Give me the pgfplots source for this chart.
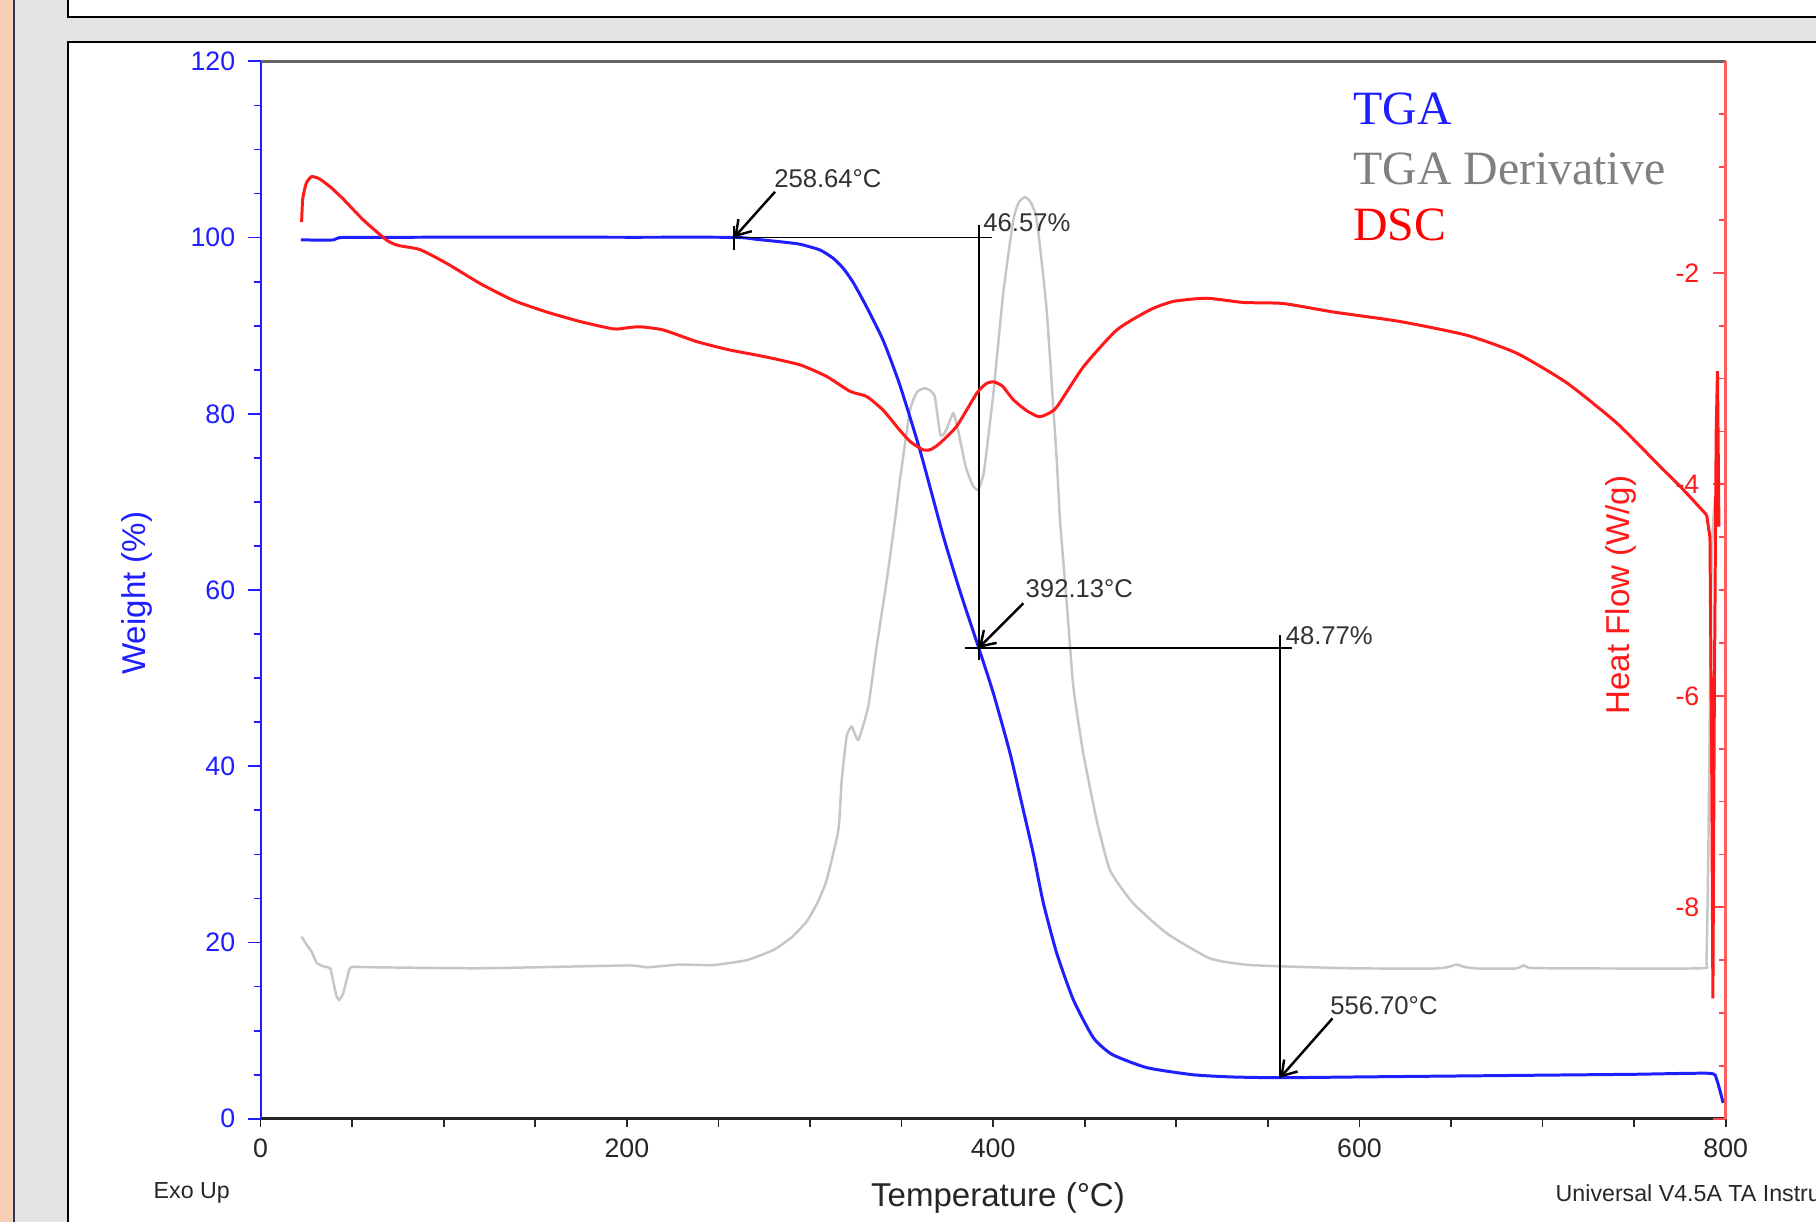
\documentclass[border=0pt]{standalone}
\usepackage{fontspec}
\setmainfont{Liberation Sans}
\newfontfamily\timesfont{Liberation Serif}
\usepackage{pgfplots}
\pgfplotsset{compat=1.18}
\usetikzlibrary{arrows.meta}

\definecolor{tgablue}{RGB}{30,30,255}
\definecolor{dscred}{RGB}{255,25,25}
\definecolor{derivgray}{RGB}{198,198,198}
\definecolor{labgray}{RGB}{50,50,50}
\definecolor{peach}{RGB}{247,207,180}
\definecolor{panelgray}{RGB}{228,228,228}
\definecolor{navyline}{RGB}{40,55,80}

\newcommand\tickfont{\fontsize{7.6}{9}\selectfont}
\newcommand\labfont{\fontsize{9.4}{11}\selectfont}
\newcommand\annfont{\fontsize{7.3}{9}\selectfont}
\newcommand\legfont{\timesfont\fontsize{13.6}{16}\selectfont}
\newcommand\footfont{\fontsize{6.6}{8}\selectfont}

\pgfplotsset{
  /pgf/number format/assume math mode=true,
  base/.style={scale only axis, width=14.651cm, height=10.574cm,
    at={(2.606cm,1.032cm)}, anchor=south west,
    xmin=0, xmax=800, clip=false},
}

\begin{document}
\begin{tikzpicture}
\useasboundingbox (0,0) rectangle (18.16,12.22);
\clip (0,0) rectangle (18.16,12.22);
% slide background
\fill[panelgray] (0,0) rectangle (18.16,12.22);
\fill[peach] (0,0) rectangle (0.125,12.22);
\fill[navyline] (0.125,0) rectangle (0.15,12.22);
\filldraw[fill=white, draw=black, line width=0.6pt] (0.68,12.053) rectangle (18.6,12.6);
\filldraw[fill=white, draw=black, line width=0.6pt] (0.68,-0.5) rectangle (18.6,11.80);

% x axis (bottom)
\begin{axis}[base, ymin=0, ymax=120,
  axis x line*=bottom, axis y line=none,
  xtick={0,200,...,800}, minor x tick num=3,
  tick align=outside, major tick length=0.08cm, minor tick length=0.08cm,
  x axis line style={black!85, line width=0.8pt},
  xtick style={black!85, line width=0.5pt},
  xticklabel style={font=\tickfont, text=black!85},
  xlabel={Temperature (°C)},
  every axis x label/.style={at={(axis description cs:0.5033,-0.0744)}, anchor=center, font=\labfont, text=black!85},
]
\end{axis}

% left axis: TGA and derivative
\begin{axis}[base, ymin=0, ymax=120,
  axis y line*=left, axis x line=none,
  ytick={0,20,...,120}, minor y tick num=3,
  tick align=outside, major tick length=0.13cm, minor tick length=0.07cm,
  y axis line style={tgablue, line width=0.6pt},
  ytick style={tgablue, line width=0.5pt},
  yticklabel style={font=\tickfont, text=tgablue},
  ylabel={Weight (\%)},
  every axis y label/.style={at={(axis description cs:-0.0846,0.497)}, anchor=center, rotate=90, font=\labfont, text=tgablue},
]
% TGA derivative (grey)
\addplot[derivgray, line width=0.7pt, smooth, tension=0.3] coordinates {
(22.4,20.67) (25,19.8) (27.9,18.96) (30.6,17.7) (35,17.25) (38,17.1)
(39.7,15.5) (41.5,13.9) (43,13.5) (45,14.2) (47,15.75) (49.2,17.19)
(60,17.2) (120,17.08) (200,17.4) (210.8,17.19) (229,17.5) (247.2,17.45)
(265.4,18.0) (280,19.15) (290,20.6) (298.2,22.4) (304,24.5) (309.1,27.1) (315.5,32.8)
(317.3,38.4) (320,43.4) (322.8,44.5) (326.4,43.0) (331.8,46.8) (336.4,53.6)
(341.9,61.1) (346.4,67.95) (349.1,72.5) (354.6,80.4) (358.5,82.5) (362.8,82.9)
(366,82.6) (368.2,81.9) (371.2,77.6) (374,78.0) (378.2,80.06) (381,78)
(385,74) (389,71.8) (391.9,71.4) (395,73.5) (400.1,82.3) (405.5,93.7)
(411,102) (414,104) (417.4,104.6) (420.5,104) (423.8,102) (429.2,91.8)
(434.7,74.8) (436.5,67.95) (440.2,58.5) (443.8,49.0) (449.2,41.5) (456.5,33.9)
(463.8,28.2) (476.5,24.45) (494.8,21.05) (518.4,18.2) (540.3,17.45) (594.9,17.08)
(640,17.05) (648,17.2) (653,17.5) (658,17.2) (665,17.05) (685,17.05)
(690,17.4) (695,17.1) (750,17.05) (788,17.1) (789.5,18) (790.5,30)
(791.5,50) (792.5,65) (794,70) (796,73)
};
% TGA (blue)
\addplot[tgablue, line width=0.85pt, smooth, tension=0.35] coordinates {
(22,99.75) (30,99.72) (40,99.74) (43,100.0) (60,100.03) (120,100.05)
(200,100.04) (258.64,100.03) (271,99.8) (285,99.5) (294.5,99.25) (305.4,98.6)
(312.7,97.65) (318.2,96.5) (323.6,94.9) (331,92.1) (340,88.3) (349,83.3)
(360,75.9) (372.8,66.1) (382,59.8) (392.13,53.43) (400.1,48.3) (409.2,41.5)
(416.5,35.0) (421.9,30.1) (427.4,24.5) (434.7,18.8) (443.8,13.5) (454.7,9.2)
(465,7.3) (484,5.8) (509,5.0) (530,4.75) (556.7,4.66) (600,4.75)
(650,4.85) (700,4.95) (750,5.05) (791,5.16) (795,4.5) (798.6,1.8)
};
% step and onset marks
\addplot[black, line width=0.45pt] coordinates {(258.64,98.6) (258.64,101.3)};
\addplot[black, line width=0.45pt] coordinates {(258.64,100.03) (399.2,100.03)};
\addplot[black, line width=0.45pt] coordinates {(392.13,101.4) (392.13,52.1)};
\addplot[black, line width=0.45pt] coordinates {(384.6,53.43) (563,53.43)};
\addplot[black, line width=0.45pt] coordinates {(556.7,54.9) (556.7,4.66)};
\addplot[black, line width=0.7pt, -{Straight Barb[length=1.4mm,width=1.8mm]}] coordinates {(280.9,105.2) (258.64,100.03)};
\addplot[black, line width=0.7pt, -{Straight Barb[length=1.4mm,width=1.8mm]}] coordinates {(416.5,58.5) (392.13,53.43)};
\addplot[black, line width=0.7pt, -{Straight Barb[length=1.4mm,width=1.8mm]}] coordinates {(585.3,11.4) (556.7,4.66)};
\node[anchor=base west, inner sep=0, font=\annfont, text=labgray] at (axis cs:280.1,105.7) {258.64°C};
\node[anchor=base west, inner sep=0, font=\annfont, text=labgray] at (axis cs:394.3,100.7) {46.57\%};
\node[anchor=base west, inner sep=0, font=\annfont, text=labgray] at (axis cs:417.4,59.2) {392.13°C};
\node[anchor=base west, inner sep=0, font=\annfont, text=labgray] at (axis cs:559.4,53.8) {48.77\%};
\node[anchor=base west, inner sep=0, font=\annfont, text=labgray] at (axis cs:583.7,11.8) {556.70°C};
\end{axis}

% right axis: DSC and top frame line
\begin{axis}[base, ymin=-10, ymax=0,
  axis y line*=right, axis x line*=top, xtick=\empty,
  ytick={-10,-8,...,0}, yticklabels={{},-8,-6,-4,-2,{}}, minor y tick num=3,
  tick align=inside, major tick length=0.13cm, minor tick length=0.07cm,
  y axis line style={dscred!70, line width=1pt},
  x axis line style={black!60, line width=1pt},
  ytick style={dscred!80, line width=0.5pt},
  yticklabel style={font=\tickfont, text=dscred, anchor=east, xshift=-0.14cm},
  ylabel={Heat Flow (W/g)},
  every axis y label/.style={at={(axis description cs:0.9288,0.4954)}, anchor=center, rotate=90, font=\labfont, text=dscred},
]
\addplot[dscred, line width=0.85pt, smooth, tension=0.35] coordinates {
(22.4,-1.52) (23,-1.3) (25,-1.15) (27.9,-1.09) (32,-1.11) (37.9,-1.185)
(45,-1.3) (56.1,-1.50) (68.8,-1.69) (75,-1.74) (87,-1.78) (101.6,-1.91)
(119.8,-2.10) (138,-2.26) (156.2,-2.37) (174.4,-2.46) (192.6,-2.53) (200,-2.52)
(207.2,-2.51) (219.9,-2.54) (238.1,-2.65) (256.3,-2.73) (274.5,-2.79) (294.5,-2.87)
(309.1,-2.98) (321.8,-3.12) (331,-3.17) (340,-3.30) (349.1,-3.49) (355,-3.60)
(361.9,-3.675) (366,-3.67) (371,-3.61) (380.1,-3.45) (391,-3.14) (396,-3.05)
(400.1,-3.03) (405,-3.07) (411,-3.20) (418,-3.30) (424.7,-3.36) (429,-3.34)
(434.7,-3.27) (449.2,-2.89) (467.5,-2.54) (485.6,-2.35) (498.4,-2.27) (516.6,-2.24)
(536.6,-2.28) (558.4,-2.29) (585.7,-2.37) (622.1,-2.46) (658.6,-2.59) (685.9,-2.76)
(713.2,-3.04) (740.5,-3.42) (764.1,-3.83) (776.8,-4.05) (789.6,-4.29)
};
\addplot[dscred, line width=0.85pt] coordinates {
(789.6,-4.29) (791.4,-4.5)
(792.3,-6.5) (793,-8.86) (793.8,-6.0) (794.8,-3.5) (795.5,-2.93) (796.3,-4.4)
};
\end{axis}

% legend text and footer
\node[anchor=base west, inner sep=0, font=\legfont, text=tgablue] at (13.527,10.97) {TGA};
\node[anchor=base west, inner sep=0, font=\legfont, text=black!50] at (13.527,10.37) {TGA Derivative};
\node[anchor=base west, inner sep=0, font=\legfont, text=red] at (13.527,9.81) {DSC};
\node[anchor=west, inner sep=0, font=\footfont, text=black!85] at (1.53,0.29) {Exo Up};
\node[anchor=west, inner sep=0, font=\footfont, text=black!85] at (15.55,0.29) {Universal V4.5A TA Instru};
\end{tikzpicture}
\end{document}
